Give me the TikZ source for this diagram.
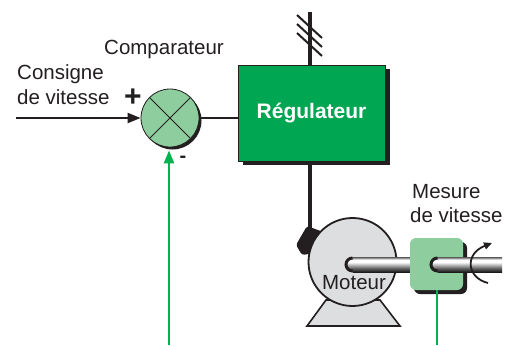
\documentclass[tikz,border=0pt]{standalone}
\usepackage{fontspec}
\setmainfont{Liberation Sans}
\usetikzlibrary{arrows.meta,shapes.geometric,shadows}
\definecolor{dkgreen}{RGB}{0,166,81}
\definecolor{ltgreen}{RGB}{141,205,158}
\definecolor{motorgray}{RGB}{221,222,223}
\definecolor{sigreen}{RGB}{0,178,80}
\definecolor{txt}{RGB}{35,31,32}
\pgfdeclareverticalshading{shaftshade}{100bp}{color(0bp)=(black!90); color(25bp)=(black!90); color(38bp)=(black!60); color(58bp)=(white); color(66bp)=(white); color(72bp)=(black!45); color(75bp)=(black!65); color(100bp)=(black!65)}
\begin{document}
\begin{tikzpicture}[x=1pt,y=-1pt,
  lbl/.style={font=\fontsize{20.5}{25}\selectfont, inner sep=0pt, anchor=base west, text=txt},
  wire/.style={line width=2.2pt, draw=txt},
  thickwire/.style={line width=4pt, draw=txt},
  sigwire/.style={line width=2.4pt, draw=sigreen},
  blackhead/.style={-{Triangle[length=13pt,width=10pt]}},
  shaft/.style={shading=shaftshade}
]
\useasboundingbox[fill=white] (0,0) rectangle (518,345);

% ---- comparator
\node[circle, draw=txt, line width=0.8pt, fill=ltgreen, minimum size=58pt, inner sep=0pt,
      drop shadow={shadow xshift=2.5pt, shadow yshift=-2.5pt, opacity=1, fill=txt}] (cmp) at (170,118) {};
\draw[line width=0.9pt, txt] (cmp.45) -- (cmp.225) (cmp.135) -- (cmp.-45);

% ---- regulateur
\node[rectangle, draw=txt, line width=0.6pt, fill=dkgreen, minimum width=147pt, minimum height=96pt,
      inner sep=0pt, text=white, font=\fontsize{21}{25}\selectfont\bfseries,
      drop shadow={shadow xshift=5pt, shadow yshift=-4pt, opacity=1, fill=txt}] (reg) at (311.5,113) {Régulateur};

% ---- top supply line with hatches
\coordinate (top) at (310,12);
\draw[thickwire] (top) -- (top |- reg.north);
\draw[line width=2pt, txt] (297,15) -- (322,38) (297,24) -- (322,47) (297,33) -- (322,56);

% ---- motor
\coordinate (term) at (310,229);
\draw[thickwire] (reg.south -| term) -- (term);
\filldraw[fill=motorgray, draw=txt, line width=1.6pt] (307,326) -- (400,326) -- (380,300) -- (326,300) -- cycle;
\fill[txt, rounded corners=2.5pt] (307,226) -- (296,245) -- (302,255) -- (322,252) -- (326,233) -- cycle;
\node[circle, draw=txt, line width=1.8pt, fill=motorgray, minimum size=88pt, inner sep=0pt] (mot) at (352.5,262) {};

% shaft from motor
\shade[shaft] (352.5,257) rectangle (412,272);
\shade[shaft] (352.5,264.5) circle (7.5pt);
\draw[line width=3pt, txt] (352.5,258) arc[start angle=90, end angle=270, radius=6.5pt];

% ---- sensor
\node[rectangle, rounded corners=6pt, fill=ltgreen, minimum width=53pt, minimum height=52pt, inner sep=0pt,
      drop shadow={shadow xshift=4pt, shadow yshift=-4pt, opacity=1, fill=txt}] (sens) at (436.5,264) {};
\shade[shaft] (437.5,257) rectangle (502,272);
\shade[shaft] (437.5,264.5) circle (7.5pt);
\draw[line width=3pt, txt] (437.5,258) arc[start angle=90, end angle=270, radius=6.5pt];

% rotation arrow
\coordinate (rotA) at (488,283);
\coordinate (rotB) at (492,243);
\draw[line width=1.8pt, txt, -{Triangle[length=8pt,width=7pt]}] (rotA) .. controls (467,278) and (464,254) .. (rotB);

% ---- labels
\node[lbl] (tcomp) at (104,55) {Comparateur};
\node[lbl] (tcons1) at (17,79) {Consigne};
\node[lbl] (tcons2) at (17,104) {de vitesse};
\node[lbl] (tmes1) at (412,198) {Mesure};
\node[lbl] (tmes2) at (410,222) {de vitesse};
\node[lbl, anchor=base] (tmot) at (354,289) {Moteur};
\node[font=\fontsize{30}{34}\selectfont\bfseries, text=txt, inner sep=0pt, anchor=base] (plus) at (133,106) {+};
\node[font=\fontsize{20}{24}\selectfont\bfseries, text=txt, inner sep=0pt, anchor=base] (minus) at (183,162) {-};

% ---- connectors
\coordinate (in) at (16,118);
\draw[wire, blackhead, fill=txt] (in) -- (cmp.west);
\draw[wire] (cmp.east) -- (cmp.east -| reg.west);
\coordinate (fbin) at (169,345);
\draw[sigwire, -{Triangle[length=13pt,width=10pt]}, shorten >=3pt] (fbin) -- (fbin |- cmp.south);
\coordinate (fbout) at (437,345);
\draw[sigwire] (sens.south -| fbout) -- (fbout);
\end{tikzpicture}
\end{document}
